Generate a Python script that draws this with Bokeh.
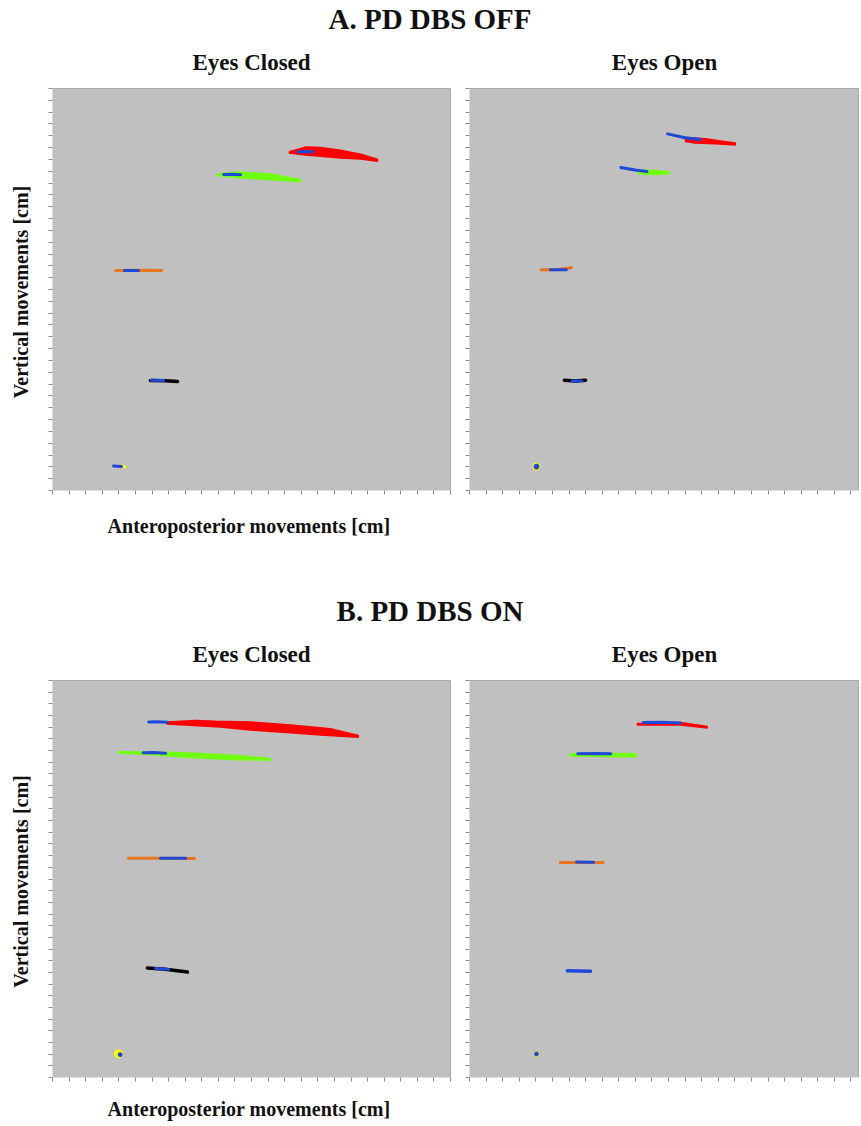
from bokeh.plotting import figure
from bokeh.layouts import column, row
from bokeh.models import Range1d, SingleIntervalTicker, CustomJSTickFormatter
from bokeh.embed import file_html
from bokeh.resources import INLINE

# ---------------- data (cm) ----------------
# Panel A: PD DBS OFF, eyes closed
A_EC_head_x = [71.4, 75.7, 76.3, 80.8, 86.8, 92.9, 98.0, 98.0, 92.9, 86.8, 80.8, 76.3, 71.4]
A_EC_head_y = [143.3, 145.0, 145.3, 145.1, 143.9, 142.2, 140.1, 139.2, 140.2, 140.6, 141.4, 141.9, 142.7]
A_EC_head_blue_x = [73.9, 76.0, 78.4]
A_EC_head_blue_y = [143.2, 143.4, 143.3]
A_EC_shoulder_x = [49.7, 56.3, 65.7, 74.8, 74.8, 65.7, 56.3, 49.7]
A_EC_shoulder_y = [134.0, 134.7, 133.8, 131.4, 130.6, 131.4, 132.3, 133.2]
A_EC_shoulder_blue_x = [51.6, 54.0, 56.7]
A_EC_shoulder_blue_y = [133.6, 133.7, 133.5]
A_EC_hip_x = [19.0, 26.0, 32.9]
A_EC_hip_y = [93.0, 93.1, 93.0]
A_EC_hip_blue_x = [21.7, 25.9]
A_EC_hip_blue_y = [93.0, 93.0]
A_EC_knee_x = [29.5, 34.0, 37.7]
A_EC_knee_y = [46.5, 46.4, 46.1]
A_EC_knee_blue_x = [29.8, 33.5]
A_EC_knee_blue_y = [46.6, 46.5]
A_EC_ankle_x = [21.0, 21.8]
A_EC_ankle_y = [10.1, 10.0]
A_EC_ankle_blue_x = [18.4, 20.8]
A_EC_ankle_blue_y = [10.4, 10.1]

# Panel A: PD DBS OFF, eyes open
A_EO_head_x = [65.1, 71.1, 75.7, 80.2, 80.2, 74.1, 68.1, 65.1]
A_EO_head_y = [149.3, 148.8, 147.8, 147.0, 146.1, 146.6, 147.0, 147.6]
A_EO_head_blue_x = [59.7, 65.0, 69.6]
A_EO_head_blue_y = [150.8, 149.2, 148.4]
A_EO_shoulder_x = [50.9, 56.1, 60.3, 60.3, 56.1, 50.9]
A_EO_shoulder_y = [135.5, 135.3, 134.7, 134.1, 133.6, 134.0]
A_EO_shoulder_blue_x = [45.6, 49.9, 53.5]
A_EO_shoulder_blue_y = [136.6, 135.5, 134.9]
A_EO_hip_x = [21.6, 26.0, 30.7]
A_EO_hip_y = [93.4, 93.4, 94.2]
A_EO_hip_blue_x = [24.4, 29.2]
A_EO_hip_blue_y = [93.4, 93.4]
A_EO_knee_x = [28.6, 32.0, 35.0]
A_EO_knee_y = [46.6, 46.3, 46.6]
A_EO_knee_blue_x = [30.9, 33.9]
A_EO_knee_blue_y = [46.3, 46.3]
A_EO_ankle_x = [20.2]
A_EO_ankle_y = [10.1]

# Panel B: PD DBS ON, eyes closed
B_EC_head_x = [34.4, 43.1, 49.1, 59.7, 71.8, 83.8, 92.2, 92.2, 80.8, 71.8, 59.7, 50.6, 40.1, 34.4]
B_EC_head_y = [152.2, 152.9, 152.6, 152.2, 150.9, 149.3, 146.5, 145.7, 146.7, 147.6, 148.8, 150.1, 150.9, 151.4]
B_EC_head_blue_x = [29.0, 31.5, 34.6]
B_EC_head_blue_y = [152.2, 152.3, 152.1]
B_EC_shoulder_x = [19.9, 34.1, 44.6, 56.7, 65.7, 65.7, 53.7, 41.6, 29.5, 19.9]
B_EC_shoulder_y = [139.5, 139.3, 138.7, 137.8, 136.6, 135.9, 136.2, 137.0, 138.3, 138.9]
B_EC_shoulder_blue_x = [27.3, 30.5, 34.1]
B_EC_shoulder_blue_y = [139.1, 139.2, 138.9]
B_EC_hip_x = [22.9, 32.0, 42.8]
B_EC_hip_y = [93.9, 93.9, 93.8]
B_EC_hip_blue_x = [32.6, 40.1]
B_EC_hip_blue_y = [93.9, 93.9]
B_EC_knee_x = [28.6, 34.0, 40.7]
B_EC_knee_y = [46.9, 46.4, 45.2]
B_EC_knee_blue_x = [31.1, 35.0]
B_EC_knee_blue_y = [46.7, 46.3]
B_EC_ankle_x = [19.9]
B_EC_ankle_y = [10.2]
B_EC_ankle_blue_x = [20.4]
B_EC_ankle_blue_y = [9.8]

# Panel B: PD DBS ON, eyes open
B_EO_head_x = [50.6, 63.6, 71.7, 71.7, 63.6, 50.6]
B_EO_head_y = [151.6, 152.0, 150.3, 149.7, 150.9, 150.9]
B_EO_head_blue_x = [52.4, 58.0, 63.6]
B_EO_head_blue_y = [152.0, 152.1, 151.8]
B_EO_shoulder_x = [30.4, 42.4, 50.3, 50.3, 42.4, 30.4]
B_EO_shoulder_y = [138.6, 138.7, 138.6, 137.3, 137.5, 137.7]
B_EO_shoulder_blue_x = [32.6, 37.5, 42.6]
B_EO_shoulder_blue_y = [138.6, 138.7, 138.6]
B_EO_hip_x = [27.4, 34.0, 40.3]
B_EO_hip_y = [92.1, 92.1, 92.1]
B_EO_hip_blue_x = [32.3, 37.4]
B_EO_hip_blue_y = [92.3, 92.2]
B_EO_knee_x = [29.5, 33.0, 36.5]
B_EO_knee_y = [45.7, 45.6, 45.5]
B_EO_ankle_x = [20.2]
B_EO_ankle_y = [10.1]

# ---------------- style ----------------
RED = "#ff0000"
GREEN = "#70ff10"
ORANGE = "#e8761e"
BLACK = "#000000"
YELLOW = "#ffff00"
BLUE = "#2048d8"
BG = "#c0c0c0"
SERIF = "Liberation Serif"

FRAME_W_LEFT = 398
FRAME_W_RIGHT = 390
FRAME_H = 402
X_END_LEFT = 120
X_END_RIGHT = 120 * FRAME_W_RIGHT / FRAME_W_LEFT
Y_END = 170


def make_panel(title, left, top_border, bottom_border, ylabel, xlabel, xlabel_standoff):
    if left:
        mbl, mbr = 52, 10
        width = mbl + FRAME_W_LEFT + mbr
        xr = Range1d(0, X_END_LEFT)
    else:
        mbl, mbr = 9, 0
        width = mbl + FRAME_W_RIGHT + mbr
        xr = Range1d(0, X_END_RIGHT)
    height = top_border + FRAME_H + bottom_border
    p = figure(width=width, height=height, x_range=xr, y_range=Range1d(0, Y_END),
               output_backend="svg", toolbar_location=None,
               min_border_left=mbl, min_border_right=mbr,
               min_border_top=top_border, min_border_bottom=bottom_border,
               title=title)
    p.title.align = "center"
    p.title.text_font = SERIF
    p.title.text_font_size = "23px"
    p.title.text_font_style = "bold"
    p.title.text_color = "#111111"
    p.title.standoff = 27
    p.background_fill_color = BG
    p.border_fill_color = "white"
    p.outline_line_color = "#a9a9a9"
    p.grid.visible = False
    for ax in (p.xaxis[0], p.yaxis[0]):
        ax.ticker = SingleIntervalTicker(interval=5, num_minor_ticks=0)
        ax.formatter = CustomJSTickFormatter(code="return ''")
        ax.major_label_text_font_size = "0px"
        ax.major_label_standoff = 0
        ax.major_tick_out = 4
        ax.major_tick_in = 0
        ax.minor_tick_out = 0
        ax.minor_tick_in = 0
        ax.major_tick_line_color = "#8c8c8c"
        ax.axis_line_color = "#dcdcdc"
        ax.axis_label_text_font = SERIF
        ax.axis_label_text_font_style = "bold"
        ax.axis_label_text_font_size = "20px"
        ax.axis_label_text_color = "#111111"
    if ylabel:
        p.yaxis.axis_label = ylabel
        p.yaxis.axis_label_standoff = 17
    if xlabel:
        p.xaxis.axis_label = xlabel
        p.xaxis.axis_label_standoff = xlabel_standoff
    return p


def header(text, top):
    h = figure(width=859, height=34, output_backend="svg", toolbar_location=None,
               x_range=Range1d(0, 1), y_range=Range1d(0, 1),
               x_axis_type=None, y_axis_type=None,
               min_border_left=0, min_border_right=0, min_border_top=top, min_border_bottom=0,
               title=text)
    h.outline_line_color = None
    h.background_fill_color = "white"
    h.title.align = "center"
    h.title.text_font = SERIF
    h.title.text_font_size = "29px"
    h.title.text_font_style = "bold"
    h.title.text_color = "#111111"
    h.title.standoff = 0
    return h


def draw(p, head_x, head_y, hb_x, hb_y, sh_x, sh_y, sb_x, sb_y,
         hip_x, hip_y, hipb_x, hipb_y, kn_x, kn_y, knb_x, knb_y, knee_color):
    p.patch(head_x, head_y, fill_color=RED, line_color=RED, line_width=1.5)
    p.line(hb_x, hb_y, line_color=BLUE, line_width=3, line_cap="round")
    p.patch(sh_x, sh_y, fill_color=GREEN, line_color=GREEN, line_width=1.5)
    p.line(sb_x, sb_y, line_color=BLUE, line_width=3, line_cap="round")
    p.line(hip_x, hip_y, line_color=ORANGE, line_width=3, line_cap="round")
    if hipb_x:
        p.line(hipb_x, hipb_y, line_color=BLUE, line_width=3, line_cap="round")
    p.line(kn_x, kn_y, line_color=knee_color, line_width=3.5, line_cap="round")
    if knb_x:
        p.line(knb_x, knb_y, line_color=BLUE, line_width=3, line_cap="round")


hA = header("A. PD DBS OFF", 33)
hB = header("B. PD DBS ON", 33)

pA1 = make_panel("Eyes Closed", True, 54, 102, "Vertical  movements [cm]", "Anteroposterior  movements [cm]", 20)
pA2 = make_panel("Eyes Open", False, 54, 102, None, None, 0)
pB1 = make_panel("Eyes Closed", True, 54, 40, "Vertical  movements [cm]", "Anteroposterior  movements [cm]", 16)
pB2 = make_panel("Eyes Open", False, 54, 40, None, None, 0)

draw(pA1, A_EC_head_x, A_EC_head_y, A_EC_head_blue_x, A_EC_head_blue_y,
     A_EC_shoulder_x, A_EC_shoulder_y, A_EC_shoulder_blue_x, A_EC_shoulder_blue_y,
     A_EC_hip_x, A_EC_hip_y, A_EC_hip_blue_x, A_EC_hip_blue_y,
     A_EC_knee_x, A_EC_knee_y, A_EC_knee_blue_x, A_EC_knee_blue_y, BLACK)
pA1.line(A_EC_ankle_x, A_EC_ankle_y, line_color=YELLOW, line_width=3, line_cap="round")
pA1.line(A_EC_ankle_blue_x, A_EC_ankle_blue_y, line_color=BLUE, line_width=3, line_cap="round")

draw(pA2, A_EO_head_x, A_EO_head_y, A_EO_head_blue_x, A_EO_head_blue_y,
     A_EO_shoulder_x, A_EO_shoulder_y, A_EO_shoulder_blue_x, A_EO_shoulder_blue_y,
     A_EO_hip_x, A_EO_hip_y, A_EO_hip_blue_x, A_EO_hip_blue_y,
     A_EO_knee_x, A_EO_knee_y, A_EO_knee_blue_x, A_EO_knee_blue_y, BLACK)
pA2.scatter(A_EO_ankle_x, A_EO_ankle_y, size=7, color=YELLOW)
pA2.scatter(A_EO_ankle_x, A_EO_ankle_y, size=5, color=BLUE)

draw(pB1, B_EC_head_x, B_EC_head_y, B_EC_head_blue_x, B_EC_head_blue_y,
     B_EC_shoulder_x, B_EC_shoulder_y, B_EC_shoulder_blue_x, B_EC_shoulder_blue_y,
     B_EC_hip_x, B_EC_hip_y, B_EC_hip_blue_x, B_EC_hip_blue_y,
     B_EC_knee_x, B_EC_knee_y, B_EC_knee_blue_x, B_EC_knee_blue_y, BLACK)
pB1.scatter(B_EC_ankle_x, B_EC_ankle_y, size=8, color=YELLOW)
pB1.scatter(B_EC_ankle_blue_x, B_EC_ankle_blue_y, size=4, color=BLUE)

draw(pB2, B_EO_head_x, B_EO_head_y, B_EO_head_blue_x, B_EO_head_blue_y,
     B_EO_shoulder_x, B_EO_shoulder_y, B_EO_shoulder_blue_x, B_EO_shoulder_blue_y,
     B_EO_hip_x, B_EO_hip_y, B_EO_hip_blue_x, B_EO_hip_blue_y,
     B_EO_knee_x, B_EO_knee_y, None, None, BLUE)
pB2.scatter(B_EO_ankle_x, B_EO_ankle_y, size=5, color=YELLOW)
pB2.scatter(B_EO_ankle_x, B_EO_ankle_y, size=4, color=BLUE)

layout = column(hA, row(pA1, pA2), hB, row(pB1, pB2))
open("out.html", "w").write(file_html(layout, INLINE))
